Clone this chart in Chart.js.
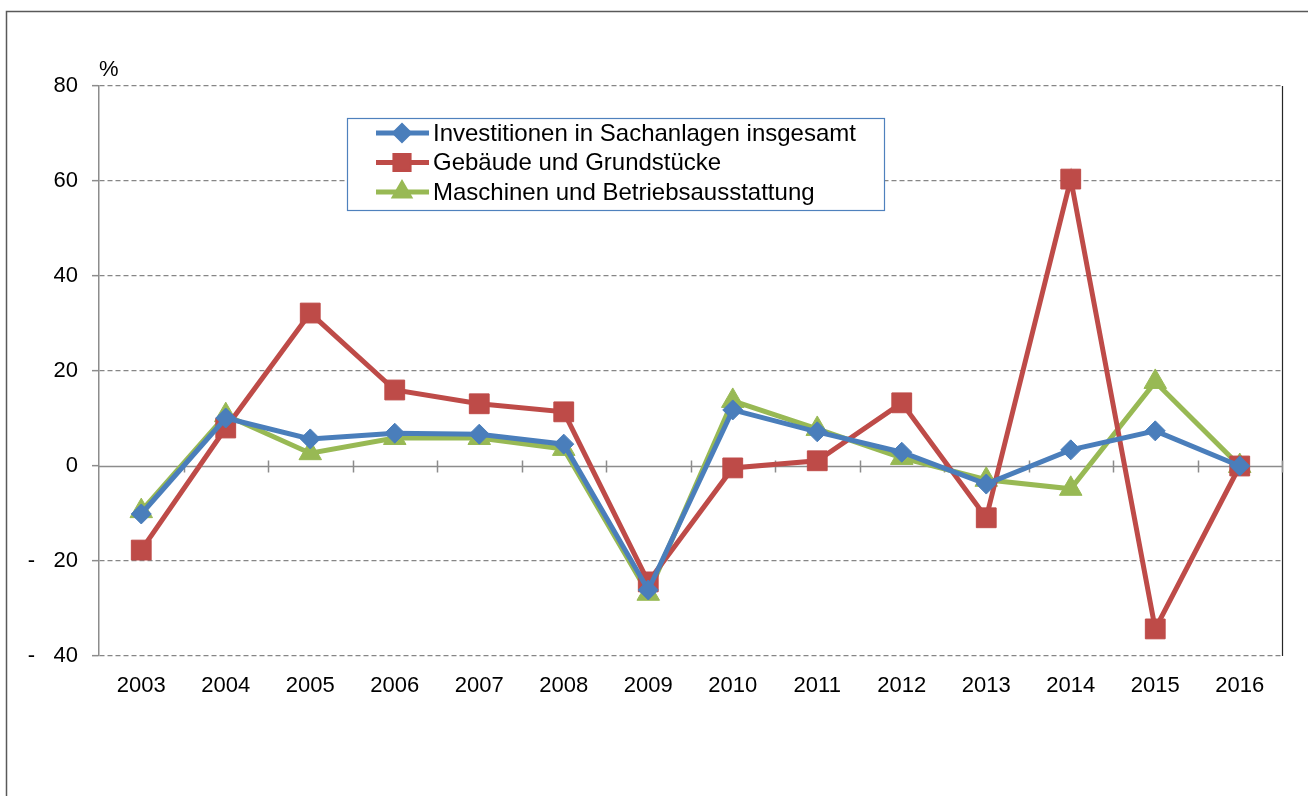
<!DOCTYPE html>
<html>
<head>
<meta charset="utf-8">
<script src="https://cdn.jsdelivr.net/npm/chart.js@4/dist/chart.umd.min.js"></script>
<style>
  html, body { margin: 0; padding: 0; background: #ffffff; }
  #wrap { width: 1308px; height: 796px; position: relative; }
</style>
</head>
<body>
<div id="wrap"><canvas id="c" width="1308" height="796"></canvas></div>
<script>
const years = ['2003','2004','2005','2006','2007','2008','2009','2010','2011','2012','2013','2014','2015','2016'];
const seriesNames = ['Investitionen in Sachanlagen insgesamt', 'Gebäude und Grundstücke', 'Maschinen und Betriebsausstattung'];
const investitionen = [-10.1, 10.1, 5.7, 6.9, 6.7, 4.6, -26.1, 11.8, 7.2, 2.9, -3.8, 3.4, 7.4, 0];
const gebaeude = [-17.7, 8.0, 32.2, 16.0, 13.1, 11.4, -24.4, -0.4, 1.1, 13.3, -10.9, 60.4, -34.3, 0];
const maschinen = [-9.5, 10.7, 2.7, 5.9, 5.9, 3.6, -26.9, 13.7, 7.8, 1.7, -2.9, -4.8, 17.7, 0];
const yMin = -40, yMax = 80, yStep = 20;
const unitLabel = '%';

const FONT = 'Liberation Sans, Arial, sans-serif';

const decorPlugin = {
  id: 'decor',
  beforeDraw(chart) {
    const ctx = chart.ctx;
    ctx.save();
    ctx.fillStyle = '#ffffff';
    ctx.fillRect(0, 0, chart.width, chart.height);
    ctx.strokeStyle = '#595959';
    ctx.lineWidth = 1.5;
    ctx.beginPath();
    ctx.moveTo(6.5, chart.height + 2);
    ctx.lineTo(6.5, 11.5);
    ctx.lineTo(chart.width + 2, 11.5);
    ctx.stroke();
    ctx.restore();
  },
  beforeDatasetsDraw(chart) {
    const ctx = chart.ctx;
    const area = chart.chartArea;
    const ys = chart.scales.y;
    const y0 = Math.round(ys.getPixelForValue(0)) + 0.5;
    ctx.save();
    ctx.strokeStyle = '#262626';
    ctx.lineWidth = 1.2;
    ctx.beginPath();
    ctx.moveTo(Math.round(area.right) + 0.5, area.top);
    ctx.lineTo(Math.round(area.right) + 0.5, area.bottom);
    ctx.stroke();
    ctx.strokeStyle = '#8c8c8c';
    ctx.lineWidth = 1.5;
    ctx.beginPath();
    ctx.moveTo(area.left, y0);
    ctx.lineTo(area.right, y0);
    const n = years.length;
    const w = (area.right - area.left) / n;
    for (let i = 1; i <= n; i++) {
      const x = Math.round(area.left + w * i) + 0.5;
      ctx.moveTo(x, y0 - 6);
      ctx.lineTo(x, y0 + 6);
    }
    ctx.stroke();
    ctx.restore();
  },
  afterDraw(chart) {
    const ctx = chart.ctx;
    const area = chart.chartArea;
    ctx.save();
    ctx.fillStyle = '#000000';
    ctx.font = '22px ' + FONT;
    ctx.textBaseline = 'alphabetic';
    ctx.textAlign = 'left';
    ctx.fillText(unitLabel, area.left, 76);
    const bx = 347.5, by = 118.5, bw = 537, bh = 92;
    ctx.fillStyle = '#ffffff';
    ctx.fillRect(bx, by, bw, bh);
    ctx.strokeStyle = '#4f81bd';
    ctx.lineWidth = 1.2;
    ctx.strokeRect(bx, by, bw, bh);
    const rowsY = [133, 162.5, 192];
    chart.data.datasets.forEach((ds, i) => {
      const yy = rowsY[i];
      ctx.strokeStyle = ds.borderColor;
      ctx.lineWidth = ds.borderWidth;
      ctx.beginPath();
      ctx.moveTo(376, yy);
      ctx.lineTo(429, yy);
      ctx.stroke();
      Chart.helpers.drawPoint(ctx, {
        pointStyle: ds.pointStyle,
        radius: ds.legendRadius,
        borderWidth: 1,
        rotation: 0
      }, 402, yy);
      ctx.fillStyle = ds.pointBackgroundColor;
      ctx.fill();
      ctx.fillStyle = '#000000';
      ctx.font = '24px ' + FONT;
      ctx.textBaseline = 'middle';
      ctx.fillText(ds.label, 433, yy + 1);
    });
    ctx.restore();
  }
};

const mk = (label, data, color, style, radius, legendRadius) => ({
  label, data,
  borderColor: color,
  backgroundColor: color,
  pointBackgroundColor: color,
  pointBorderColor: color,
  borderWidth: 5,
  pointStyle: style,
  pointRadius: radius,
  pointHoverRadius: radius,
  pointBorderWidth: 1,
  legendRadius,
  tension: 0,
  fill: false
});

new Chart(document.getElementById('c'), {
  type: 'line',
  data: {
    labels: years,
    datasets: [
      mk(seriesNames[0], investitionen, '#4a7ebb', 'rectRot', 10, 7),
      mk(seriesNames[1], gebaeude, '#be4b48', 'rect', 14, 10),
      mk(seriesNames[2], maschinen, '#98b954', 'triangle', 13, 8)
    ]
  },
  plugins: [decorPlugin],
  options: {
    responsive: false,
    animation: false,
    devicePixelRatio: 1,
    layout: { padding: { top: 86, right: 26, left: 0, bottom: 0 } },
    plugins: { legend: { display: false }, tooltip: { enabled: false }, title: { display: false } },
    scales: {
      x: {
        type: 'category',
        offset: true,
        grid: { display: false, drawTicks: false },
        border: { display: false },
        ticks: { color: '#000000', font: { family: FONT, size: 22 }, padding: 17, maxRotation: 0, autoSkip: false },
        afterFit(scale) { scale.height = 140; }
      },
      y: {
        min: yMin, max: yMax,
        grid: {
          color: (c) => (c.tick && c.tick.value === 0) ? 'rgba(0,0,0,0)' : '#868686',
          lineWidth: 1.3,
          drawTicks: true,
          tickLength: 7,
          tickColor: '#8c8c8c',
          tickWidth: 1.5
        },
        border: {
          display: true,
          color: '#8c8c8c',
          width: 1.5,
          dash: (c) => (c.tick && c.tick.value !== 0) ? [5, 3] : []
        },
        ticks: {
          stepSize: yStep,
          color: '#000000',
          font: { family: FONT, size: 22 },
          padding: 14,
          callback: (v) => v < 0 ? '-   ' + Math.abs(v) : String(v)
        },
        afterFit(scale) { scale.width = 99; }
      }
    }
  }
});
</script>
</body>
</html>
